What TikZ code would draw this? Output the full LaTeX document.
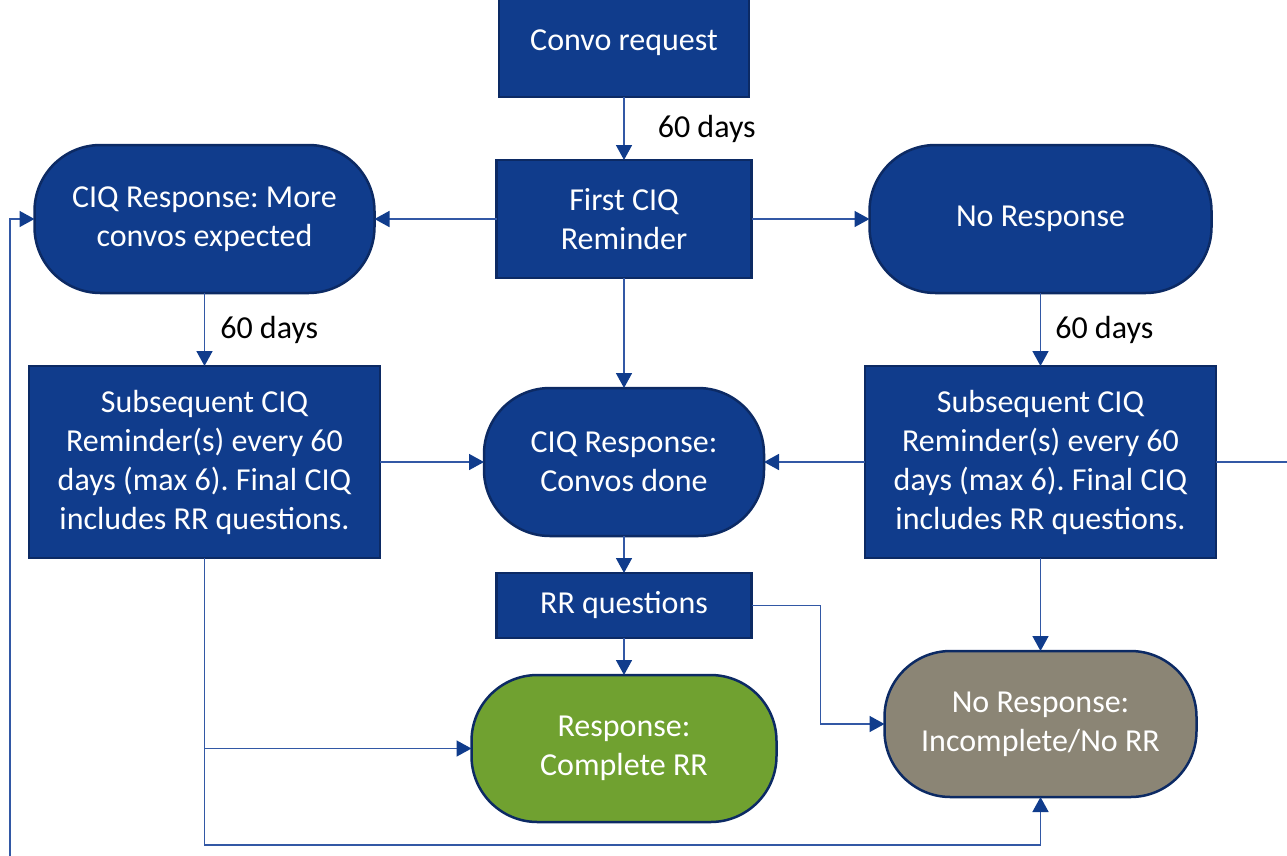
\documentclass[tikz,border=0pt]{standalone}
\usepackage{fontspec}
\setmainfont{Carlito}
\usetikzlibrary{arrows.meta, positioning, calc}

\definecolor{ciqblue}{RGB}{16,60,140}
\definecolor{ciqedge}{RGB}{12,42,100}
\definecolor{ciqline}{RGB}{50,88,165}
\definecolor{ciqgreen}{RGB}{112,161,48}
\definecolor{ciqgrey}{RGB}{139,133,117}

\begin{document}
\frenchspacing
\begin{tikzpicture}
    [
        x=1pt, y=-1pt,
        every node/.style = {
            font=\fontsize{32}{39}\selectfont
            },
        box/.style = {
            rectangle, draw=ciqedge, line width=2.5pt, fill=ciqblue,
            text=white, align=center, inner sep=0pt, outer sep=0pt
            },
        pill/.style = {
            box, rounded corners=66pt
            },
        link/.style = {
            draw=ciqline, line width=1.6pt,
            -{Triangle[length=15pt, width=16pt, color=ciqblue]}
            },
        days/.style = {
            text=black, inner sep=2pt
            },
    ]
    \useasboundingbox (0,0) rectangle (1287,855);

    % centre column
    \node[box, minimum width=250pt, minimum height=108pt] (convo) at (624,43) {Convo request};
    \node[box, minimum width=255pt, minimum height=118pt] (first) [below=63pt of convo] {First CIQ\\Reminder};
    \node[pill, minimum width=280pt, minimum height=148pt] (done) [below=110pt of first] {CIQ Response:\\Convos done};
    \node[box, minimum width=255pt, minimum height=65pt] (rr) [below=37pt of done] {RR questions};
    \node[pill, fill=ciqgreen, minimum width=305pt, minimum height=147pt] (complete) [below=37pt of rr] {Response:\\Complete RR};

    % side columns
    \node[pill, minimum width=340pt, minimum height=148pt] (more) [left=122pt of first] {CIQ Response: More\\convos expected};
    \node[pill, minimum width=342pt, minimum height=148pt] (nores) [right=118pt of first] {No Response};
    \node[box, minimum width=351pt, minimum height=192pt] (subL) [below=73pt of more]
        {Subsequent CIQ\\Reminder(s) every 60\\days (max 6). Final CIQ\\includes RR questions.};
    \node[box, minimum width=351pt, minimum height=192pt] (subR) [below=73pt of nores]
        {Subsequent CIQ\\Reminder(s) every 60\\days (max 6). Final CIQ\\includes RR questions.};
    \node[pill, fill=ciqgrey, minimum width=312pt, minimum height=146pt] (incomplete) [below=93pt of subR]
        {No Response:\\Incomplete/No RR};

    \coordinate (outR) at ($(subR.east)+(80,0)$);
    \coordinate (outL) at (10,870);

    % connectors
    \draw[link] (convo) -- node[days, right=31pt] {60 days} (first);
    \draw[link] (first) -- (more);
    \draw[link] (first) -- (nores);
    \draw[link] (more) -- node[days, right=13pt] {60 days} (subL);
    \draw[link] (nores) -- node[days, right=12pt] {60 days} (subR);
    \draw[link] (first) -- (done);
    \draw[link] (subL) -- (done);
    \draw[link] (subR) -- (done);
    \draw[link] (done) -- (rr);
    \draw[link] (rr) -- (complete);
    \draw[link] (rr.east) -- ++(69,0) |- (incomplete.west);
    \draw[link] (subR) -- (incomplete);
    \draw[link] (subL.south) |- (complete.west);
    \draw[link] (subL.south) |- ($(incomplete.south)+(0,48)$) -- (incomplete.south);
    \draw[link, -] (subR.east) -- (outR);
    \draw[link] (outL) |- (more.west);
\end{tikzpicture}
\end{document}
